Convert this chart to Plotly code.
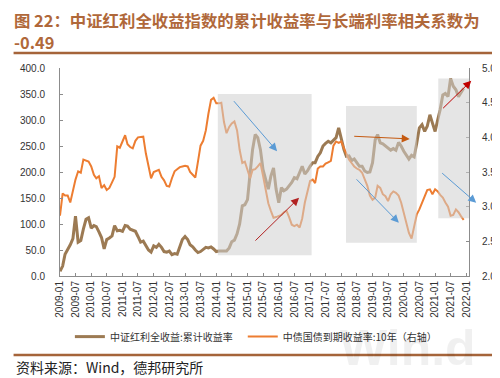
import pandas as pd
import plotly.graph_objects as go

# ---------------- data ----------------
months = pd.date_range("2009-01-01", "2021-12-01", freq="MS")

dividend_cum_return = [
    9, 19, 42, 50, 60, 72, 115, 65, 68, 90, 109, 112,
    92, 97, 95, 85, 74, 52, 70, 73, 77, 97, 87, 88,
    86, 97, 96, 90, 88, 86, 76, 65, 67, 58, 50, 46,
    58, 55, 61, 55, 47, 46, 48, 41, 43, 42, 56, 70,
    76, 70, 60, 56, 50, 45, 47, 51, 55, 54, 56, 52,
    47, 48, 48, 47, 48, 54, 66, 69, 81, 100, 135, 137,
    147, 199, 243, 272, 266, 243, 205, 186, 167, 192, 208, 167,
    141, 170, 164, 167, 173, 180, 189, 187, 199, 211, 196, 202,
    211, 218, 218, 230, 237, 250, 255, 259, 256, 262, 266, 285,
    262, 243, 230, 231, 222, 225, 218, 211, 211, 202, 199, 200,
    218, 262, 272, 256, 254, 250, 246, 242, 245, 242, 257, 250,
    240, 232, 225, 232, 229, 256, 285, 291, 278, 288, 310, 294,
    278, 301, 320, 348, 351, 345, 380, 365, 358, 345, 354, 361,
]

cgb_10y_yield = [
    2.87, 3.19, 3.16, 3.16, 3.06, 3.25, 3.39, 3.51, 3.49, 3.68, 3.66, 3.65,
    3.58, 3.46, 3.41, 3.44, 3.27, 3.31, 3.24, 3.27, 3.35, 3.43, 3.87, 3.85,
    3.94, 4.03, 3.90, 3.86, 3.84, 3.95, 4.00, 4.00, 4.01, 3.77, 3.58, 3.41,
    3.50, 3.52, 3.53, 3.43, 3.38, 3.30, 3.29, 3.41, 3.51, 3.54, 3.57, 3.58,
    3.59, 3.58, 3.50, 3.46, 3.42, 3.65, 3.88, 3.95, 4.10, 4.34, 4.54, 4.57,
    4.49, 4.49, 4.50, 4.22, 4.06, 4.15, 4.20, 4.23, 4.10, 3.82, 3.63, 3.65,
    3.54, 3.41, 3.53, 3.54, 3.58, 3.63, 3.45, 3.25, 3.05, 2.94, 2.84, 2.85,
    2.86, 2.88, 2.92, 2.94, 2.85, 2.74, 2.72, 2.74, 2.70, 2.83, 3.06, 3.22,
    3.37, 3.39, 3.34, 3.55, 3.58, 3.58, 3.62, 3.64, 3.66, 3.88, 3.94, 3.92,
    3.94, 3.84, 3.75, 3.68, 3.63, 3.58, 3.55, 3.53, 3.49, 3.40, 3.30, 3.16,
    3.10, 3.13, 3.30, 3.27, 3.18, 3.15, 3.08, 3.18, 3.22, 3.20, 3.16, 3.06,
    2.92, 2.75, 2.62, 2.54, 2.72, 2.89, 2.96, 3.06, 3.13, 3.24, 3.25, 3.18,
    3.25, 3.22, 3.17, 3.13, 3.06, 3.00, 2.87, 2.88, 2.96, 2.92, 2.86, 2.81,
]

tick_dates = pd.date_range("2009-01-01", "2022-01-01", freq="6MS")
tick_labels = [d.strftime("%Y-%m") for d in tick_dates]

name_div = "中证红利全收益:累计收益率"
name_cgb = "中债国债到期收益率:10年（右轴）"

# shaded periods (x start, x end, y low, y high on left axis)
periods = [
    ("2014-01-19", "2017-01-19", 40, 350),
    ("2018-02-25", "2020-06-01", 64, 327),
    ("2021-02-07", "2022-02-01", 111, 380),
]

# ---------------- figure ----------------
BROWN = "#9C7A53"
ORANGE = "#ED7D31"
AXIS = "#8C8C8C"
TXT = "#333333"
FONT = "Noto Sans CJK SC, Arial, sans-serif"

fig = go.Figure()
fig.add_trace(go.Scatter(x=months, y=dividend_cum_return, name=name_div,
                         mode="lines", line=dict(color=BROWN, width=3), yaxis="y",
                         legend="legend"))
fig.add_trace(go.Scatter(x=months, y=cgb_10y_yield, name=name_cgb,
                         mode="lines", line=dict(color=ORANGE, width=2), yaxis="y2",
                         legend="legend2"))

shapes = []
for x0, x1, y0, y1 in periods:
    shapes.append(dict(type="rect", xref="x", yref="y", x0=x0, x1=x1, y0=y0, y1=y1,
                       fillcolor="rgba(208,208,208,0.55)", line=dict(width=0),
                       layer="above"))

L, T, W, H = 52, 60, 414, 208.3
def px2paper(px, py):
    return (px - L) / W, (T + H - py) / H

# dividers
for py in (45, 347.3):
    xa, ya = px2paper(5, py)
    xb, _ = px2paper(497, py)
    shapes.append(dict(type="line", xref="paper", yref="paper", x0=xa, x1=xb, y0=ya, y1=ya,
                       line=dict(color="#A5643A", width=2.5)))

annotations = []
# arrows (tail px, head px, color)
arrows = [
    ((226.7, 91.7), (271.7, 143.3), "#5B9BD5"),
    ((248.3, 234.3), (294.0, 190.0), "#B22222"),
    ((348.3, 128.3), (406.0, 131.0), "#C55A11"),
    ((350.7, 170.0), (395.0, 215.0), "#5B9BD5"),
    ((438.3, 101.7), (468.3, 72.7), "#C00000"),
    ((437.3, 164.0), (473.3, 195.0), "#5B9BD5"),
]
for (tx, ty), (hx, hy), c in arrows:
    ax_, ay_ = px2paper(tx, ty)
    hx_, hy_ = px2paper(hx, hy)
    annotations.append(dict(xref="x domain", yref="y domain", axref="x domain", ayref="y domain",
                            x=hx_, y=hy_, ax=ax_, ay=ay_, text="", showarrow=True,
                            arrowhead=2, arrowsize=1.6, arrowwidth=1, arrowcolor=c, standoff=0))

def text_ann(txt, px, py, size, color, bold=False, xanchor="left", family=FONT):
    x, y = px2paper(px, py)
    annotations.append(dict(xref="paper", yref="paper", x=x, y=y, xanchor=xanchor,
                            yanchor="middle", showarrow=False,
                            text=f"<b>{txt}</b>" if bold else txt,
                            font=dict(size=size, color=color, family=family)))

text_ann("Win.d", 404, 340, 50, "rgba(0,0,0,0.06)", bold=True, xanchor="center",
         family="Arial, sans-serif")
text_ann("图 22：中证红利全收益指数的累计收益率与长端利率相关系数为", 3, 12, 16.4, "#B0683A", bold=True)
text_ann("-0.49", 3, 34, 16.4, "#B0683A", bold=True)
text_ann("资料来源：Wind，德邦研究所", 5, 359, 14, "#222222")

l1x, ly = px2paper(62, 329)
l2x, _ = px2paper(237, 329)
leg_common = dict(orientation="h", y=ly, xanchor="left", yanchor="middle",
                  font=dict(size=10, color=TXT), itemwidth=30, bgcolor="rgba(0,0,0,0)")

fig.update_layout(
    width=500, height=378,
    margin=dict(l=L, r=500 - L - W, t=T, b=378 - T - H),
    paper_bgcolor="white", plot_bgcolor="white",
    font=dict(family=FONT, size=10, color=TXT),
    showlegend=True,
    legend=dict(x=l1x, **leg_common),
    legend2=dict(x=l2x, **leg_common),
    xaxis=dict(type="date", range=["2009-01-01", "2022-02-01"],
               tickvals=list(tick_dates), ticktext=tick_labels, tickangle=-90,
               showgrid=False, showline=True, linecolor=AXIS, linewidth=1,
               ticks="inside", ticklen=3, tickcolor=AXIS,
               tickfont=dict(size=10, color=TXT, family="Arial, sans-serif"), zeroline=False),
    yaxis=dict(range=[0, 400], dtick=50, tickformat=".1f", showgrid=False,
               showline=True, linecolor=AXIS, linewidth=1, ticks="inside", ticklen=3,
               tickcolor=AXIS, zeroline=False, ticklabelstandoff=12,
               tickfont=dict(size=10, color=TXT, family="Arial, sans-serif")),
    yaxis2=dict(range=[2, 5], dtick=0.5, tickformat=".1f", overlaying="y", side="right",
                showgrid=False, showline=True, linecolor=AXIS, linewidth=1,
                ticks="inside", ticklen=3, tickcolor=AXIS, zeroline=False,
                ticklabelstandoff=10,
                tickfont=dict(size=10, color=TXT, family="Arial, sans-serif")),
    shapes=shapes,
    annotations=annotations,
)

fig.write_html("out.html")
